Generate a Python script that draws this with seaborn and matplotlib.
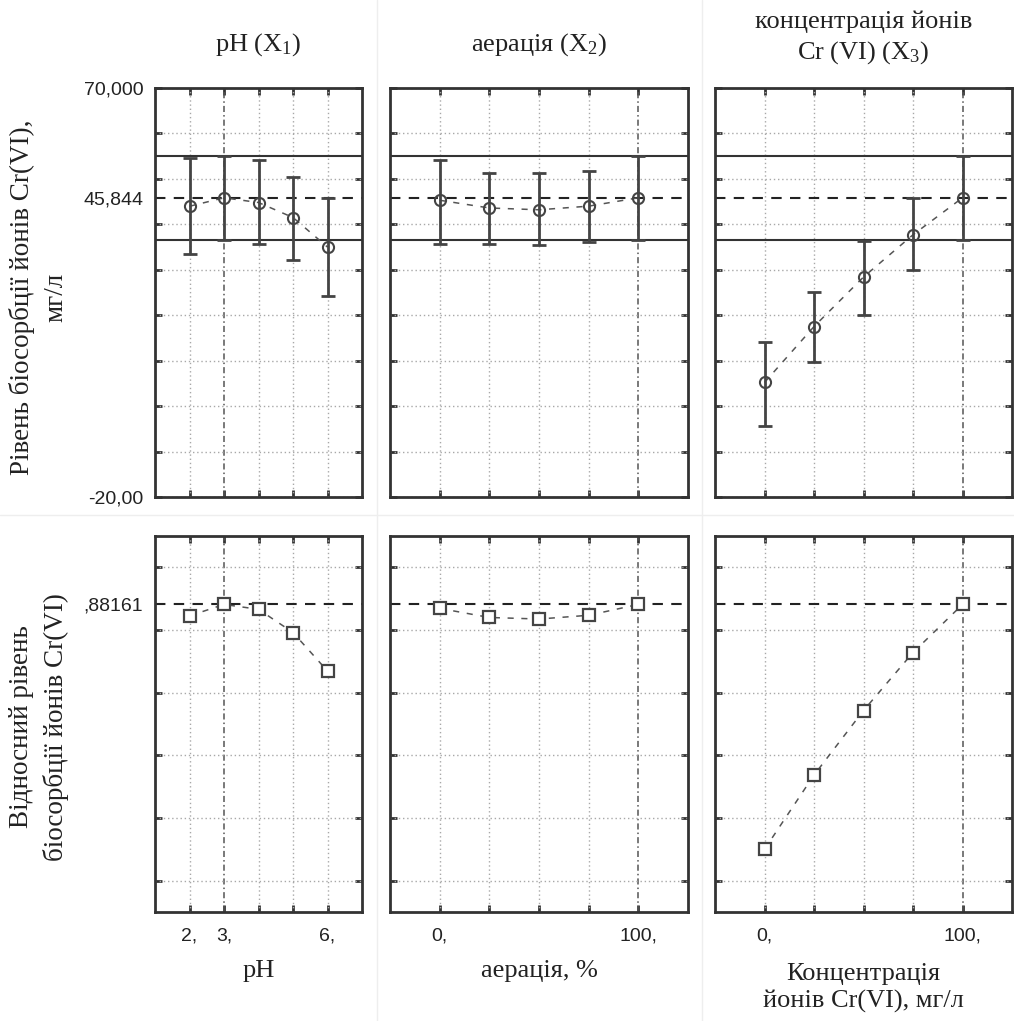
import numpy as np
import matplotlib
matplotlib.use("Agg")
import matplotlib.pyplot as plt
import seaborn as sns
from matplotlib.lines import Line2D

# ---------------- data ----------------
ph_x = [2, 3, 4, 5, 6]
ph_mean = [43.97, 45.844, 44.8, 41.5, 35.0]
ph_low = [33.4, 36.5, 35.7, 32.1, 24.3]
ph_high = [54.6, 55.0, 54.1, 50.4, 45.7]
ph_rel = [0.845, 0.8816, 0.866, 0.792, 0.669]

aer_x = [0, 25, 50, 75, 100]
aer_mean = [45.3, 43.6, 43.2, 44.0, 45.844]
aer_low = [35.7, 35.7, 35.4, 36.1, 36.64]
aer_high = [54.1, 51.3, 51.3, 51.8, 55.04]
aer_rel = [0.869, 0.840, 0.835, 0.847, 0.8816]

cr_x = [0, 25, 50, 75, 100]
cr_mean = [5.2, 17.5, 28.4, 37.7, 45.844]
cr_low = [-4.3, 9.6, 20.1, 30.0, 36.64]
cr_high = [14.0, 25.1, 36.3, 45.7, 55.04]
cr_rel = [0.100, 0.337, 0.543, 0.728, 0.8816]

opt_value = 45.844
opt_band = [36.64, 55.04]
opt_rel = 0.88161
opt_x = [3, 100, 100]

top_yticks = [-20, -10, 0, 10, 20, 30, 40, 50, 60, 70]
top_ylabels = ["-20,00", "", "", "", "", "", "", "", "", "70,000"]
bot_yticks = [0.0, 0.2, 0.4, 0.6, 0.8, 1.0]

xlabels_ph = ["2,", "3,", "", "", "6,"]
xlabels_pct = ["0,", "", "", "", "100,"]

col_titles = ["pH ($\\mathrm{X}_1$)", "аерація ($\\mathrm{X}_2$)",
              "концентрація йонів\nCr (VI) ($\\mathrm{X}_3$)"]
x_titles = ["pH", "аерація, %", "Концентрація\nйонів Cr(VI), мг/л"]
y_titles = ["Рівень біосорбції йонів Cr(VI),\nмг/л",
            "Відносний рівень\nбіосорбції йонів Cr(VI)"]

# ---------------- style ----------------
sns.set_theme(style="white")
plt.rcParams['font.family'] = ['Liberation Serif', 'DejaVu Serif']
plt.rcParams['mathtext.fontset'] = 'custom'
plt.rcParams['mathtext.rm'] = 'Liberation Serif'
plt.rcParams['mathtext.it'] = 'Liberation Serif:italic'

W, H = 1014, 1021
fig = plt.figure(figsize=(W / 100, H / 100), dpi=100)
fig.patch.set_facecolor("white")

cols = [(155, 362), (390, 688), (715, 1012)]
rows = [(88, 497), (536, 912)]

# faint cell separators
for xs in (377, 702):
    fig.add_artist(Line2D([xs / W, xs / W], [0, 1], color="#eeeeee", lw=1))
fig.add_artist(Line2D([0, 1], [1 - 515 / H, 1 - 515 / H], color="#eeeeee", lw=1))


def make_ax(col, row):
    l, r = cols[col]
    t, b = rows[row]
    return fig.add_axes([l / W, 1 - b / H, (r - l) / W, (b - t) / H])


DARK = "#333333"
GRID = "#a8a8a8"


def style(ax, xs, xlim, ylim, yticks, optx):
    ax.set_xlim(xlim)
    ax.set_ylim(ylim)
    ax.set_facecolor("white")
    for v in xs:
        if v == optx:
            ax.axvline(v, color="#555555", ls=(0, (4, 2, 1, 2)), lw=1.1, zorder=1)
        else:
            ax.axvline(v, color=GRID, ls=(0, (1, 2)), lw=1, zorder=1)
    for v in yticks:
        ax.axhline(v, color=GRID, ls=(0, (1, 2)), lw=1, zorder=1)
    ax.set_xticks(xs)
    ax.set_yticks(yticks)
    ax.tick_params(which="major", direction="in", length=5, width=2,
                   top=True, bottom=True, left=True, right=True,
                   color=DARK, labelsize=14,
                   labelfontfamily="Liberation Sans", labelcolor="#222222")
    ax.tick_params(axis="x", pad=11)
    ax.tick_params(axis="y", pad=8.5)
    ax.tick_params(which="minor", length=0, labelsize=14, left=True,
                   labelfontfamily="Liberation Sans", labelcolor="#222222", pad=8.5)
    for s in ax.spines.values():
        s.set_linewidth(2)
        s.set_color(DARK)
        s.set_visible(True)


panels = [
    (ph_x, ph_mean, ph_low, ph_high, ph_rel, (1, 7), xlabels_ph),
    (aer_x, aer_mean, aer_low, aer_high, aer_rel, (-25, 125), xlabels_pct),
    (cr_x, cr_mean, cr_low, cr_high, cr_rel, (-25, 125), xlabels_pct),
]

for i, (xs, mean, low, high, rel, xlim, xl) in enumerate(panels):
    mean_a = np.array(mean)
    # ---- top row ----
    ax = make_ax(i, 0)
    style(ax, xs, xlim, (-20, 70), top_yticks, opt_x[i])
    for b in opt_band:
        ax.axhline(b, color=DARK, lw=1.5, zorder=2)
    ax.axhline(opt_value, color="#222222", ls=(0, (5, 4)), lw=1.5, zorder=2)
    sns.lineplot(x=xs, y=mean, ax=ax, color="#555555", lw=1.1,
                 linestyle=(0, (4, 5)), marker="o", markersize=8,
                 markerfacecolor="none", markeredgecolor="#444444",
                 markeredgewidth=1.5, zorder=4)
    ax.errorbar(xs, mean, yerr=[mean_a - np.array(low), np.array(high) - mean_a],
                fmt="none", ecolor="#444444", elinewidth=2, capsize=5,
                capthick=2, zorder=5)
    ax.set_xticklabels([""] * len(xs))
    if i == 0:
        ax.set_yticklabels(top_ylabels)
        ax.set_yticks([opt_value], labels=["45,844"], minor=True)
    else:
        ax.set_yticklabels([""] * len(top_yticks))
    ax.set_xlabel("")
    ax.set_ylabel("")

    # ---- bottom row ----
    ax2 = make_ax(i, 1)
    style(ax2, xs, xlim, (-0.1, 1.1), bot_yticks, opt_x[i])
    ax2.axhline(opt_rel, color="#222222", ls=(0, (5, 4)), lw=1.5, zorder=2)
    sns.lineplot(x=xs, y=rel, ax=ax2, color="#555555", lw=1.1,
                 linestyle=(0, (4, 5)), marker="s", markersize=8,
                 markerfacecolor="white", markeredgecolor="#444444",
                 markeredgewidth=1.6, zorder=4)
    ax2.set_xticklabels(xl)
    if i == 0:
        ax2.set_yticklabels([""] * len(bot_yticks))
        ax2.set_yticks([opt_rel], labels=[",88161"], minor=True)
    else:
        ax2.set_yticklabels([""] * len(bot_yticks))
    ax2.set_xlabel("")
    ax2.set_ylabel("")

# ---------------- texts ----------------
TXT = "#222222"
centers = [(c[0] + c[1]) / 2 for c in cols]
title_y = [45, 45, 38]
for cx, ty, t in zip(centers, title_y, col_titles):
    fig.text(cx / W, 1 - ty / H, t, ha="center", va="center", fontsize=19,
             color=TXT, linespacing=1.3, multialignment="center")
xlab_y = [971, 971, 988]
for cx, ty, t in zip(centers, xlab_y, x_titles):
    fig.text(cx / W, 1 - ty / H, t, ha="center", va="center", fontsize=19,
             color=TXT, linespacing=1.3, multialignment="center")
for (yc, t) in zip([297, 727], y_titles):
    fig.text(39 / W, 1 - yc / H, t, ha="center", va="center", rotation=90,
             fontsize=19.5, color=TXT, linespacing=1.45, multialignment="center")

fig.savefig("out.png", dpi=100, facecolor="white")
